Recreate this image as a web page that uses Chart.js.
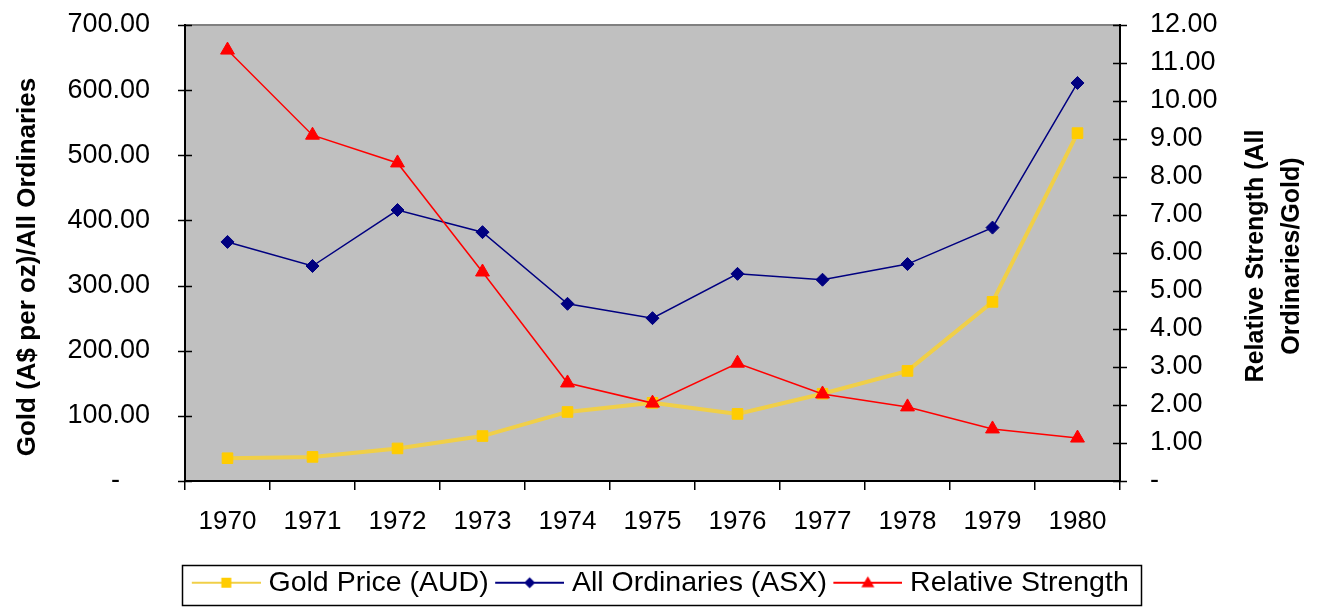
<!DOCTYPE html>
<html>
<head>
<meta charset="utf-8">
<script src="https://cdn.jsdelivr.net/npm/chart.js@4.4.1/dist/chart.umd.min.js"></script>
<style>
  html, body { margin: 0; padding: 0; background: #ffffff; }
  #wrap { width: 1318px; height: 607px; position: relative; }
</style>
</head>
<body>
<div id="wrap"><canvas id="c" width="1318" height="607"></canvas></div>
<script>
// ---- Data ----
const years = ['1970','1971','1972','1973','1974','1975','1976','1977','1978','1979','1980'];
const goldPrice = [35, 37, 50, 69, 106, 120, 103, 134, 169, 275, 534];
const allOrdinaries = [367, 330, 416, 382, 272, 250, 318, 309, 333, 389, 611];
const relativeStrength = [11.34, 9.10, 8.37, 5.50, 2.58, 2.05, 3.10, 2.29, 1.95, 1.37, 1.13];
const leftTicks = [0, 100, 200, 300, 400, 500, 600, 700];
const rightTicks = [0,1,2,3,4,5,6,7,8,9,10,11,12];
const seriesNames = ['Gold Price (AUD)', 'All Ordinaries (ASX)', 'Relative Strength'];
const rightTitle = ['Relative Strength (All', 'Ordinaries/Gold)'];
const leftTitle = 'Gold (A$ per oz)/All Ordinaries';

const REG = "'Liberation Sans', Arial, sans-serif";

const GOLD_LINE = '#F0CF48', GOLD_PT = '#FFCC00';
const BLUE = '#000080', RED = '#FF0000';

const BOX_W = 65;            // legend symbol slot
const IMG_W = BOX_W + 13;    // symbol image width (overhangs slot by 6.5 each side)
function legendSymbol(lineColor, lineW, ptColor, style) {
  const cv = document.createElement('canvas');
  cv.width = IMG_W; cv.height = 18;
  const g = cv.getContext('2d');
  const x0 = 9, c = (x0 + IMG_W) / 2;
  g.strokeStyle = lineColor; g.lineWidth = lineW;
  g.beginPath(); g.moveTo(x0, 9); g.lineTo(IMG_W, 9); g.stroke();
  g.fillStyle = ptColor;
  g.beginPath();
  if (style === 'rect') { g.rect(c - 5, 4, 10, 10); }
  else if (style === 'rectRot') { g.moveTo(c, 3.5); g.lineTo(c + 5.5, 9); g.lineTo(c, 14.5); g.lineTo(c - 5.5, 9); g.closePath(); }
  else { g.moveTo(c, 2.5); g.lineTo(c + 6.5, 13.5); g.lineTo(c - 6.5, 13.5); g.closePath(); }
  g.fill();
  return cv;
}
const legendImgs = [
  legendSymbol(GOLD_LINE, 2, GOLD_PT, 'rect'),
  legendSymbol(BLUE, 2, BLUE, 'rectRot'),
  legendSymbol(RED, 2, RED, 'triangle')
];

const bgPlugin = {
  id: 'bg',
  beforeDraw(chart) {
    const {ctx, chartArea: a} = chart;
    ctx.save();
    ctx.fillStyle = '#C0C0C0';
    ctx.fillRect(a.left, a.top, a.right - a.left, a.bottom - a.top);
    ctx.strokeStyle = '#808080'; ctx.lineWidth = 2;
    ctx.beginPath(); ctx.moveTo(a.left, a.top); ctx.lineTo(a.right, a.top); ctx.stroke();
    ctx.restore();
  },
  afterDraw(chart) {
    const {ctx, chartArea: a} = chart;
    ctx.save();
    // cross tick marks on the two value axes
    ctx.strokeStyle = '#000'; ctx.lineWidth = 1.5;
    const yl = chart.scales.y, yr = chart.scales.y2;
    yl.ticks.forEach(t => { const p = Math.round(yl.getPixelForValue(t.value)) + 0.5; ctx.beginPath(); ctx.moveTo(a.left - 7, p); ctx.lineTo(a.left + 7, p); ctx.stroke(); });
    yr.ticks.forEach(t => { const p = Math.round(yr.getPixelForValue(t.value)) + 0.5; ctx.beginPath(); ctx.moveTo(a.right + 7, p); ctx.lineTo(a.right - 7, p); ctx.stroke(); });
    // axis titles, reading bottom to top
    ctx.fillStyle = '#000';
    ctx.textAlign = 'center'; ctx.textBaseline = 'middle';
    const cy = (a.top + a.bottom) / 2;
    ctx.save();
    ctx.font = 'bold 26px ' + REG;
    ctx.translate(28, cy + 14);
    ctx.rotate(-Math.PI / 2);
    ctx.fillText(leftTitle, 0, 0);
    ctx.restore();
    ctx.save();
    ctx.font = 'bold 25px ' + REG;
    ctx.translate(1274, cy + 3);
    ctx.rotate(-Math.PI / 2);
    ctx.fillText(rightTitle[0], 0, -18);
    ctx.fillText(rightTitle[1], 0, 18);
    ctx.restore();
    ctx.restore();
    // legend frame
    const lg = chart.legend;
    if (lg && lg.legendHitBoxes && lg.legendHitBoxes.length) {
      const hb = lg.legendHitBoxes;
      const l = hb[0].left - 7.5;
      const last = hb[hb.length - 1];
      const r = last.left + last.width + 12;
      ctx.save();
      ctx.strokeStyle = '#000'; ctx.lineWidth = 1.5;
      ctx.strokeRect(Math.round(l) + 0.5, 565.5, Math.round(r - l), 40);
      ctx.restore();
    }
  }
};

new Chart(document.getElementById('c'), {
  type: 'line',
  data: {
    labels: years,
    datasets: [
      { label: seriesNames[0], data: goldPrice, yAxisID: 'y', borderColor: GOLD_LINE, borderWidth: 4,
        pointStyle: 'rect', pointRadius: 7.5, pointBackgroundColor: GOLD_PT, pointBorderColor: GOLD_PT, pointBorderWidth: 1,
        tension: 0, order: 3 },
      { label: seriesNames[1], data: allOrdinaries, yAxisID: 'y', borderColor: BLUE, borderWidth: 1.5,
        pointStyle: 'rectRot', pointRadius: 6.5, pointBackgroundColor: BLUE, pointBorderColor: BLUE, pointBorderWidth: 1,
        tension: 0, order: 2 },
      { label: seriesNames[2], data: relativeStrength, yAxisID: 'y2', borderColor: RED, borderWidth: 1.5,
        pointStyle: 'triangle', pointRadius: 8, pointBackgroundColor: RED, pointBorderColor: RED, pointBorderWidth: 1,
        tension: 0, order: 1 }
    ]
  },
  options: {
    responsive: false,
    animation: false,
    devicePixelRatio: 1,
    layout: { padding: { top: 25, left: 0, right: 0, bottom: 0 } },
    plugins: {
      tooltip: { enabled: false },
      legend: {
        position: 'bottom',
        labels: {
          usePointStyle: true,
          pointStyleWidth: BOX_W,
          padding: 4,
          color: '#000',
          font: { family: REG, size: 28.5 },
          generateLabels(chart) {
            return seriesNames.map((n, i) => ({
              text: n, pointStyle: legendImgs[i], datasetIndex: i,
              fillStyle: 'transparent', strokeStyle: 'transparent', lineWidth: 0, hidden: false
            }));
          }
        }
      }
    },
    scales: {
      x: {
        type: 'category',
        offset: true,
        grid: { display: true, drawOnChartArea: false, offset: true, tickLength: 9, color: '#000', lineWidth: 1.5 },
        border: { display: true, color: '#000', width: 2 },
        ticks: { color: '#000', font: { family: REG, size: 26 }, padding: 16, maxRotation: 0 },
        afterFit(scale) { scale.height = 607 - 481 - (scale.chart.legend ? scale.chart.legend.height : 36.5); }
      },
      y: {
        position: 'left',
        min: 0, max: 700,
        afterBuildTicks(scale) { scale.ticks = leftTicks.map(v => ({ value: v })); },
        grid: { display: true, drawOnChartArea: false, tickLength: 35, tickColor: 'rgba(0,0,0,0)', color: '#000' },
        border: { display: true, color: '#000', width: 2 },
        ticks: { color: '#000', font: { family: REG, size: 27 }, padding: 0,
          callback: v => v === 0 ? '-    ' : v.toFixed(2) },
        afterFit(scale) { scale.width = 185; }
      },
      y2: {
        position: 'right',
        min: 0, max: 12,
        afterBuildTicks(scale) { scale.ticks = rightTicks.map(v => ({ value: v })); },
        grid: { display: true, drawOnChartArea: false, tickLength: 30, tickColor: 'rgba(0,0,0,0)', color: '#000' },
        border: { display: true, color: '#000', width: 2 },
        ticks: { color: '#000', font: { family: REG, size: 27 }, padding: 0,
          callback: v => v === 0 ? '-' : v.toFixed(2) },
        afterFit(scale) { scale.width = 198; }
      }
    }
  },
  plugins: [bgPlugin]
});
</script>
</body>
</html>
